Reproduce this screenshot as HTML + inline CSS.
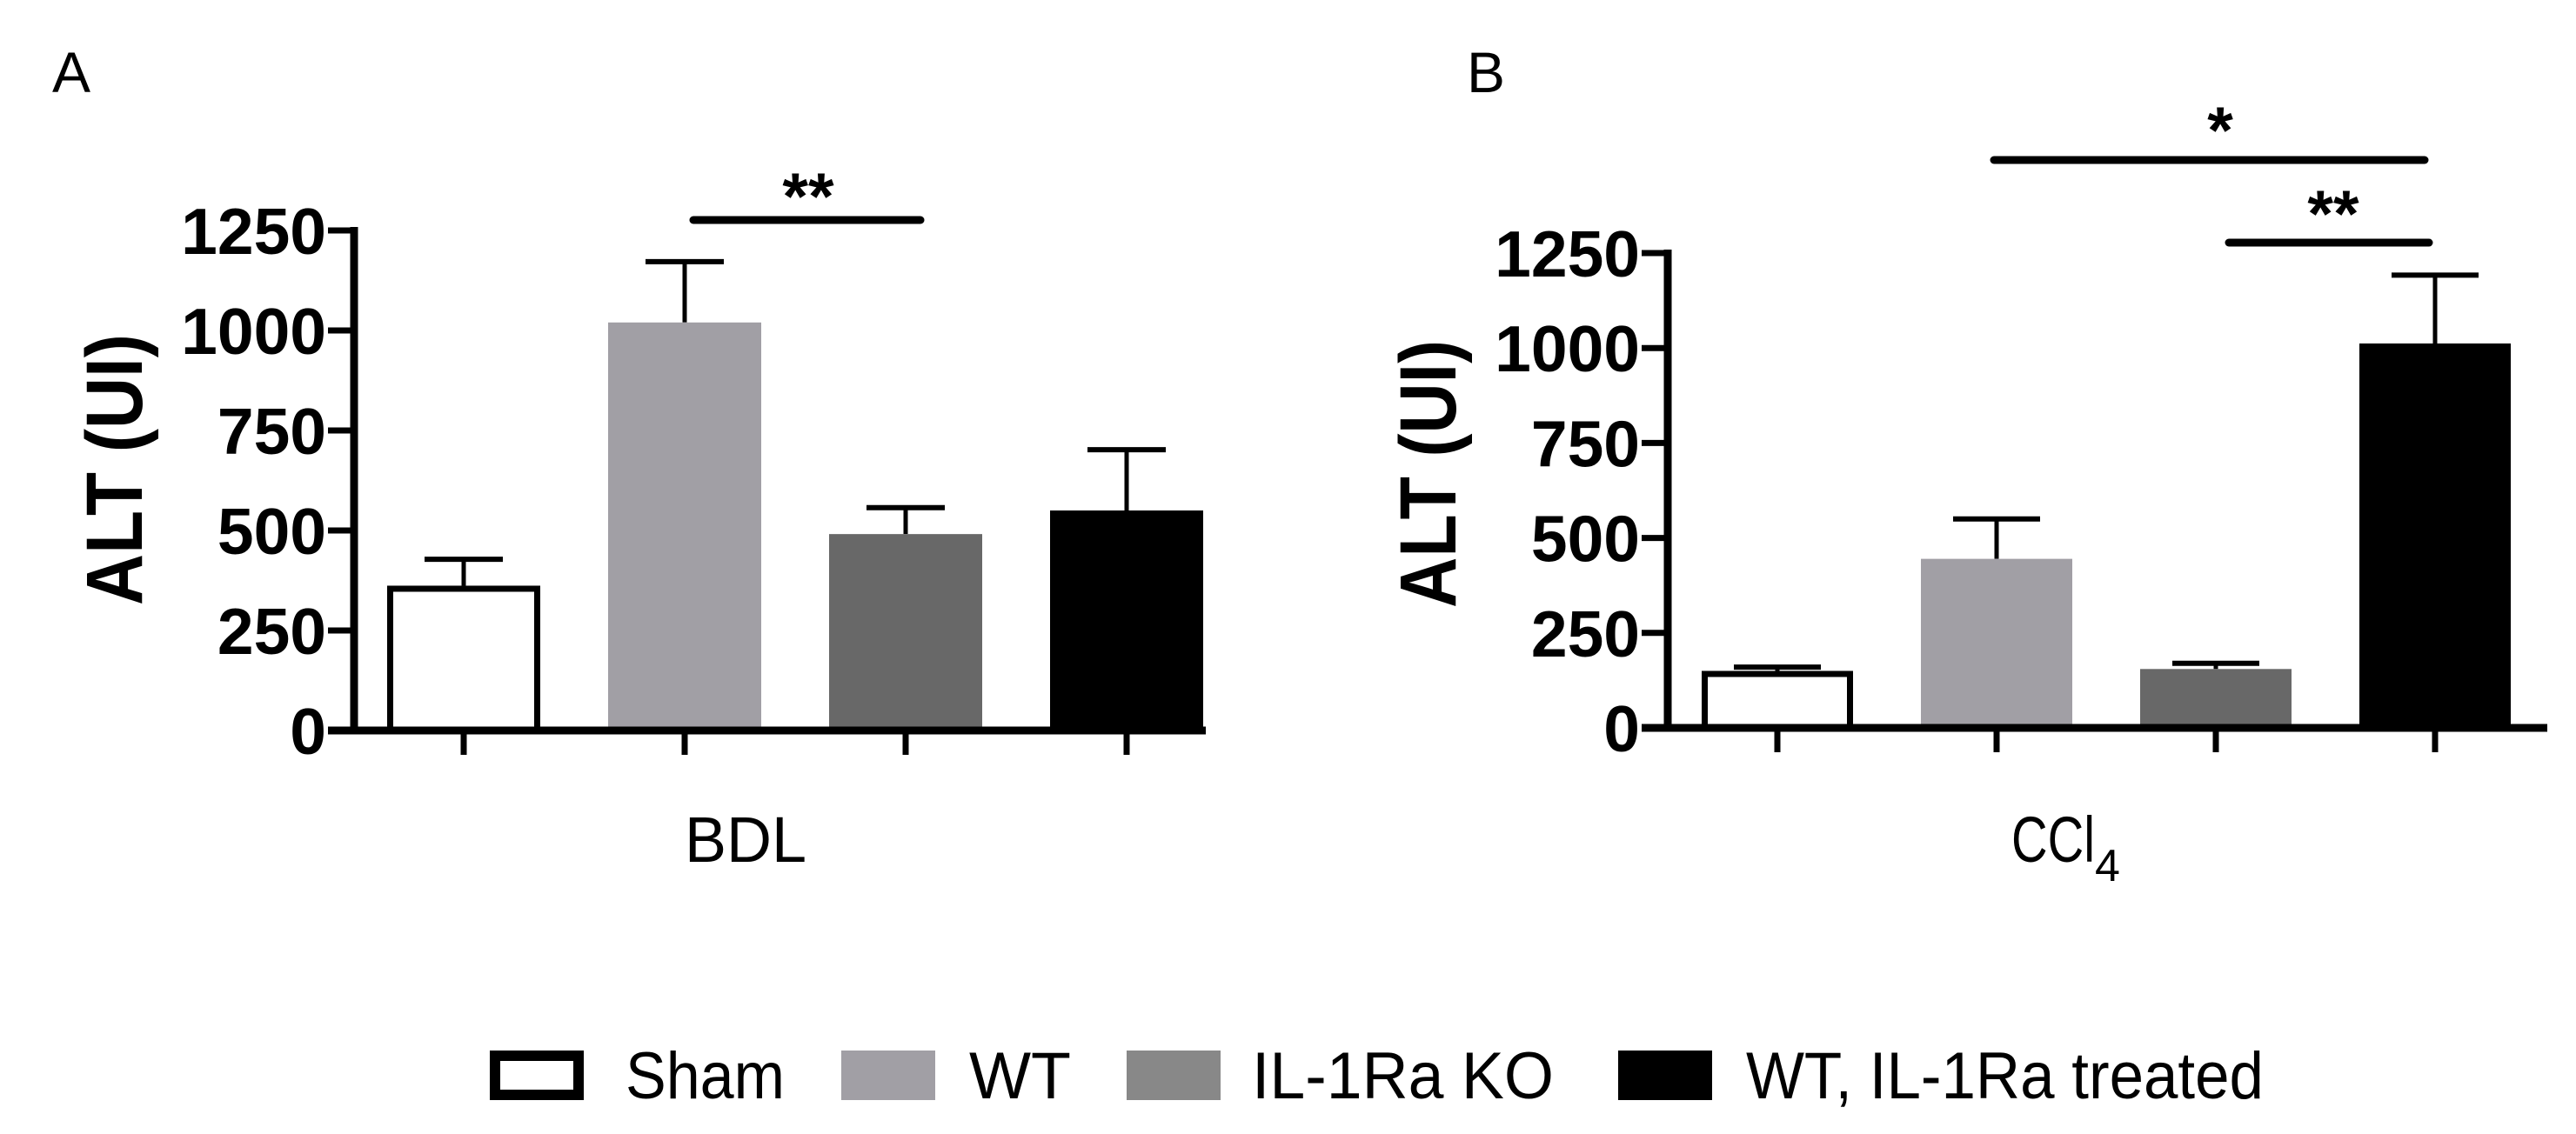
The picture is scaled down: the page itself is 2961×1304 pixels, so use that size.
<!DOCTYPE html>
<html><head><meta charset="utf-8"><style>
html,body{margin:0;padding:0;background:#fff;}
svg{display:block;}
text{font-family:"Liberation Sans",sans-serif;}
</style></head><body>
<svg id="chart" width="2961" height="1304" viewBox="0 0 2961 1304" xmlns="http://www.w3.org/2000/svg">
<g id="panelA"></g>
<g id="panelB"></g>
<g id="legend"></g>
</svg>
<script>
const groups = ["Sham", "WT", "IL-1Ra KO", "WT, IL-1Ra treated"];
const bdlMeans = [362, 1020, 491, 550];
const bdlErrors = [428, 1172, 557, 702];
const ccl4Means = [150, 445, 155, 1012];
const ccl4Errors = [160, 550, 170, 1192];
const yTicks = [0, 250, 500, 750, 1000, 1250];
const yTickLabels = ["0", "250", "500", "750", "1000", "1250"];

const NS = "http://www.w3.org/2000/svg";
const fills = ["#ffffff", "#a19fa5", "#686868", "#000000"];

function mk(tag, attrs, parent) {
  const e = document.createElementNS(NS, tag);
  for (const k in attrs) e.setAttribute(k, attrs[k]);
  parent.appendChild(e);
  return e;
}

function drawPanel(g, cfg, means, errs) {
  const yScale = v => cfg.y0 - (v / 1250) * (cfg.y0 - cfg.y1250);
  const xCenter = i => cfg.firstCenter + i * cfg.step;
  means.forEach((v, i) => {
    const cx = xCenter(i);
    const top = yScale(v);
    const errTop = yScale(errs[i]);
    const eb = mk("line", {x1: cx, x2: cx, y1: top, y2: errTop, stroke: "#000", "stroke-width": 5}, g);
    
    
    const cap = mk("line", {x1: cx - cfg.capW / 2, x2: cx + cfg.capW / 2, y1: errTop, y2: errTop, stroke: "#000", "stroke-width": 6}, g);
    
    
    let r;
    if (i === 0) {
      r = mk("rect", {x: cx - cfg.barW / 2 + 3.5, y: top + 3.5, width: cfg.barW - 7, height: cfg.y0 - top - 3.5, fill: "#fff", stroke: "#000", "stroke-width": 7}, g);
    } else {
      r = mk("rect", {x: cx - cfg.barW / 2, y: top, width: cfg.barW, height: cfg.y0 - top, fill: fills[i]}, g);
    }
    
    
    const t = mk("line", {x1: cx, x2: cx, y1: cfg.y0, y2: cfg.y0 + 28, stroke: "#000", "stroke-width": 7}, g);
    
    
  });
  const ya = mk("line", {x1: cfg.ax, x2: cfg.ax, y1: cfg.y1250 - 4, y2: cfg.y0 + 4, stroke: "#000", "stroke-width": 9}, g);
  
  
  const xa = mk("line", {x1: cfg.ax - 30, x2: cfg.axEnd, y1: cfg.y0, y2: cfg.y0, stroke: "#000", "stroke-width": 9}, g);
  
  
  yTicks.forEach((v, i) => {
    const y = yScale(v);
    const tk = mk("line", {x1: cfg.ax - 30, x2: cfg.ax, y1: y, y2: y, stroke: "#000", "stroke-width": 7}, g);
    
    
    const lb = mk("text", {x: cfg.ax - 32, y: y + 27, "font-size": 75, "font-weight": "bold", "text-anchor": "end"}, g);
    lb.textContent = yTickLabels[i];
    
    
  });
}

const gA = document.getElementById("panelA");
const gB = document.getElementById("panelB");
drawPanel(gA, {ax: 407, axEnd: 1386, y0: 840, y1250: 265, firstCenter: 533, step: 254, barW: 176, capW: 90}, bdlMeans, bdlErrors);
drawPanel(gB, {ax: 1917, axEnd: 2928, y0: 837, y1250: 291, firstCenter: 2043, step: 252, barW: 174, capW: 100}, ccl4Means, ccl4Errors);
</script>
<script>
(function(){
const NS = "http://www.w3.org/2000/svg";
const svg = document.getElementById("chart");
function add(tag, attrs, parent, txt){
  const e = document.createElementNS(NS, tag);
  for (const k in attrs) e.setAttribute(k, attrs[k]);
  if (txt !== undefined) e.textContent = txt;
  (parent || svg).appendChild(e);
  return e;
}
let e;
e = add("text", {x: 60, y: 106, "font-size": 66}, null, "A");


e = add("text", {x: 1686, y: 106, "font-size": 66}, null, "B");


e = add("text", {x: 0, y: 0, "font-size": 92, "font-weight": "bold", "text-anchor": "middle", textLength: 312, lengthAdjust: "spacingAndGlyphs", transform: "translate(163,540) rotate(-90)"}, null, "ALT (UI)");


e = add("text", {x: 0, y: 0, "font-size": 92, "font-weight": "bold", "text-anchor": "middle", textLength: 308, lengthAdjust: "spacingAndGlyphs", transform: "translate(1673,545) rotate(-90)"}, null, "ALT (UI)");


e = add("text", {x: 787, y: 991, "font-size": 74, textLength: 140, lengthAdjust: "spacingAndGlyphs"}, null, "BDL");


const t = add("text", {x: 2312, y: 991, "font-size": 74});


add("tspan", {textLength: 96, lengthAdjust: "spacingAndGlyphs"}, t, "CCl");
add("tspan", {dy: 22, "font-size": 52}, t, "4");
e = add("line", {x1: 797, x2: 1058, y1: 253, y2: 253, stroke: "#000", "stroke-width": 9, "stroke-linecap": "round"});


e = add("text", {x: 929, y: 252, "font-size": 76, "font-weight": "bold", "text-anchor": "middle"}, null, "**");


e = add("line", {x1: 2292, x2: 2787, y1: 184, y2: 184, stroke: "#000", "stroke-width": 9, "stroke-linecap": "round"});


e = add("text", {x: 2552, y: 176, "font-size": 76, "font-weight": "bold", "text-anchor": "middle"}, null, "*");


e = add("line", {x1: 2562, x2: 2792, y1: 279, y2: 279, stroke: "#000", "stroke-width": 9, "stroke-linecap": "round"});


e = add("text", {x: 2682, y: 272, "font-size": 76, "font-weight": "bold", "text-anchor": "middle"}, null, "**");


const lg = document.getElementById("legend");
const boxX = [563, 967, 1295, 1860];
const txtX = [719, 1114, 1439, 2007];
const txtW = [183, 117, 347, 595];
const lf = ["#ffffff", "#a19fa5", "#888888", "#000000"];
const names = ["Sham", "WT", "IL-1Ra KO", "WT, IL-1Ra treated"];
names.forEach((n, i) => {
  let b;
  if (i === 0) b = add("rect", {x: boxX[i] + 6, y: 1214, width: 96, height: 45, fill: "#fff", stroke: "#000", "stroke-width": 12}, lg);
  else b = add("rect", {x: boxX[i], y: 1208, width: 108, height: 57, fill: lf[i]}, lg);
  
  
  const tx = add("text", {x: txtX[i], y: 1263, "font-size": 76, textLength: txtW[i], lengthAdjust: "spacingAndGlyphs"}, lg, n);
  
  
});
})();
</script>
</body></html>
